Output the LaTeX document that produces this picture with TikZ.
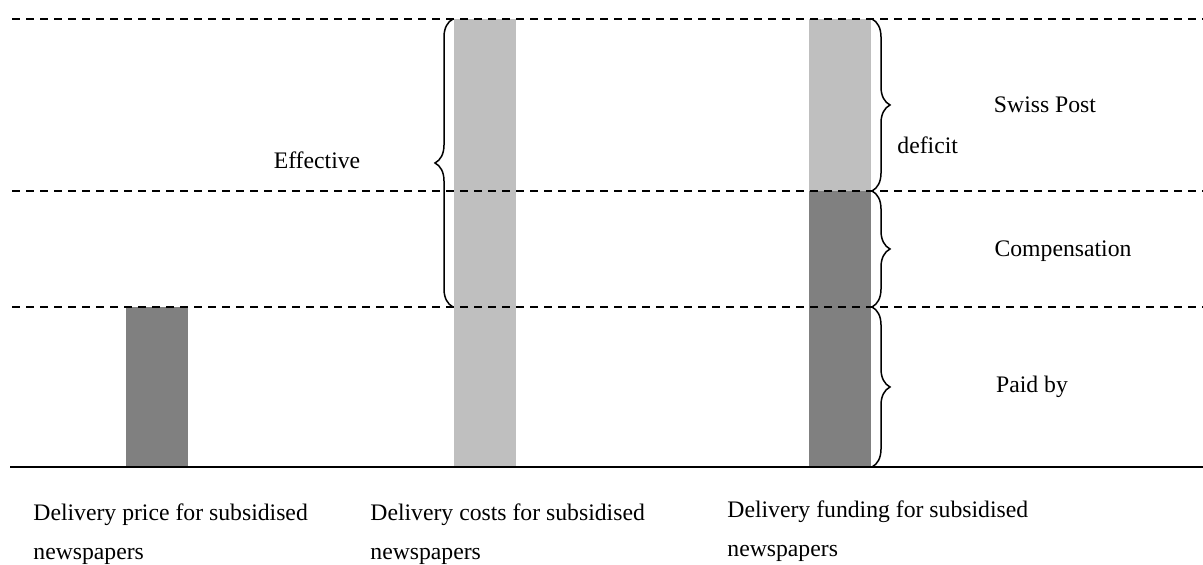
\documentclass[tikz,border=0pt]{standalone}
\usepackage{fontspec}
\setmainfont{Liberation Serif}
\usepackage{xcolor}
\usepackage{tikz}
\usetikzlibrary{decorations.pathreplacing}
\definecolor{darkbar}{RGB}{128,128,128}
\definecolor{lightbar}{RGB}{191,191,191}
\tikzset{
  level/.style={black, line width=0.65pt, dash pattern=on 4pt off 3pt},
  bracemark/.style={decorate, decoration={brace, amplitude=9pt}, line width=0.75pt},
  lbl/.style={anchor=base west, inner sep=0pt, font=\fontsize{11.85}{19.5}\selectfont},
  clbl/.style={anchor=base, inner sep=0pt, font=\fontsize{11.85}{19.5}\selectfont}
}
\begin{document}
\begin{tikzpicture}[x=0.5pt,y=0.5pt]
\useasboundingbox (0,0) rectangle (1203,565);
% Bars
\fill[darkbar] (126,98) rectangle (188,258);
\fill[lightbar] (454,98) rectangle (516,546);
\fill[darkbar] (809,98) rectangle (871,374);
\fill[lightbar] (809,374) rectangle (871,546);

% Dashed levels
\foreach \y in {546,374,258}
    \draw[level] (12,\y) -- (1203,\y);
% Base line
\draw[line width=0.75pt] (10,98) -- (1203,98);

% Braces
\draw[bracemark] (453,258) -- (453,546);
\draw[bracemark] (872,546) -- (872,374);
\draw[bracemark] (872,374) -- (872,258);
\draw[bracemark] (872,258) -- (872,98);

% Labels
\node[clbl] (effective) at (317,396) {Effective};
\node[clbl] (post) at (1045,452) {Swiss Post};
\node[lbl] (deficit) at (897,411) {deficit};
\node[clbl] (comp) at (1063,308) {Compensation};
\node[clbl] (paid) at (1032,172) {Paid by};

% Category labels (base = last line)
\node[lbl, align=left] (price) at (33,5) {Delivery price for subsidised\\newspapers};
\node[lbl, align=left] (costs) at (370,5) {Delivery costs for subsidised\\newspapers};
\node[lbl, align=left] (funding) at (727,8) {Delivery funding for subsidised\\newspapers};
\end{tikzpicture}
\end{document}
